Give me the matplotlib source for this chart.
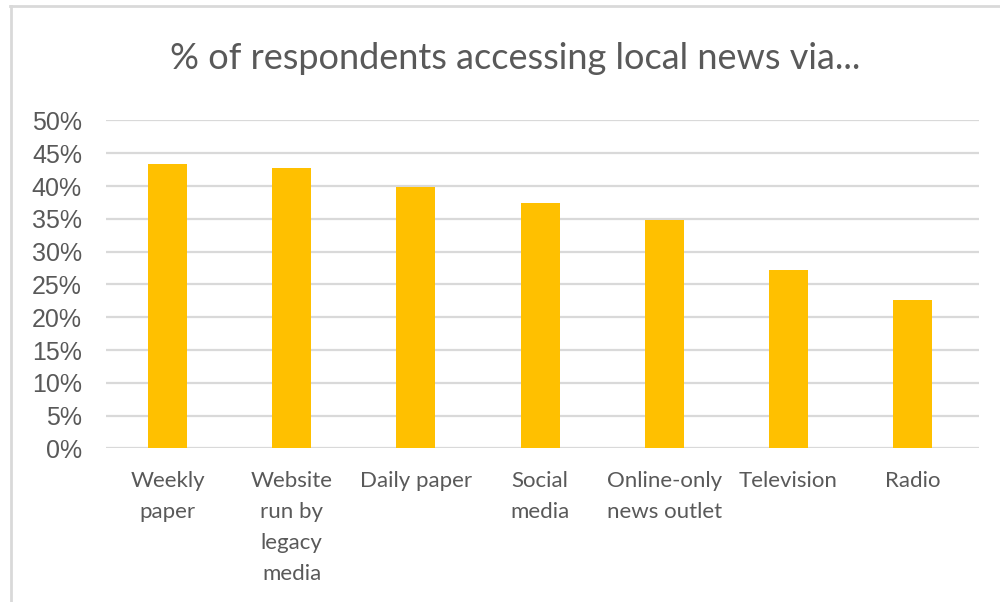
import matplotlib.pyplot as plt
from matplotlib.lines import Line2D
from matplotlib.ticker import FuncFormatter

OUT_FILENAME = 'out.png'

categories = ['Weekly\npaper', 'Website\nrun by\nlegacy\nmedia', 'Daily paper',
              'Social\nmedia', 'Online-only\nnews outlet', 'Television', 'Radio']
shares = [43.3, 42.7, 39.9, 37.4, 34.8, 27.2, 22.6]
y_ticks = [0, 5, 10, 15, 20, 25, 30, 35, 40, 45, 50]

BAR_COLOR = '#FFC000'
GRID_COLOR = '#D9D9D9'
TEXT_COLOR = '#595959'

fig = plt.figure(figsize=(10, 6.02), dpi=100)
ax = fig.add_axes([0.1055, 0.255, 0.8735, 0.545])

x = range(len(categories))
ax.bar(x, shares, width=0.315, color=BAR_COLOR, zorder=3)

# grid runs a little past the last category, as in the spreadsheet original
ax.set_xlim(-0.5, len(categories) - 0.465)
ax.set_ylim(0, 50)
ax.set_yticks(y_ticks)
ax.yaxis.set_major_formatter(FuncFormatter(lambda v, _: '{:.0f}%'.format(v)))
ax.grid(axis='y', color=GRID_COLOR, linewidth=1.6, zorder=0)
ax.set_axisbelow(True)

for s in ax.spines.values():
  s.set_visible(False)

ax.tick_params(axis='y', length=0, pad=17, labelsize=18, labelcolor=TEXT_COLOR)
ax.tick_params(axis='x', length=0, pad=16.5, labelsize=16, labelcolor=TEXT_COLOR)
for lab in ax.get_yticklabels():
  lab.set_fontfamily('Liberation Sans')

ax.set_xticks(list(x))
ax.set_xticklabels(categories, family='Lato', linespacing=1.68)

fig.text(0.515, 0.903, '% of respondents accessing local news via...',
         ha='center', va='center', fontsize=26, color=TEXT_COLOR, family='Lato')

# light frame round the chart, running off the right and bottom edges
fig.add_artist(Line2D([0.0113, 0.0113], [0.0, 0.9900], transform=fig.transFigure,
                      color=GRID_COLOR, linewidth=2.0))
fig.add_artist(Line2D([0.0103, 1.0], [0.9900, 0.9900], transform=fig.transFigure,
                      color=GRID_COLOR, linewidth=2.0))

fig.savefig(OUT_FILENAME, dpi=100)
